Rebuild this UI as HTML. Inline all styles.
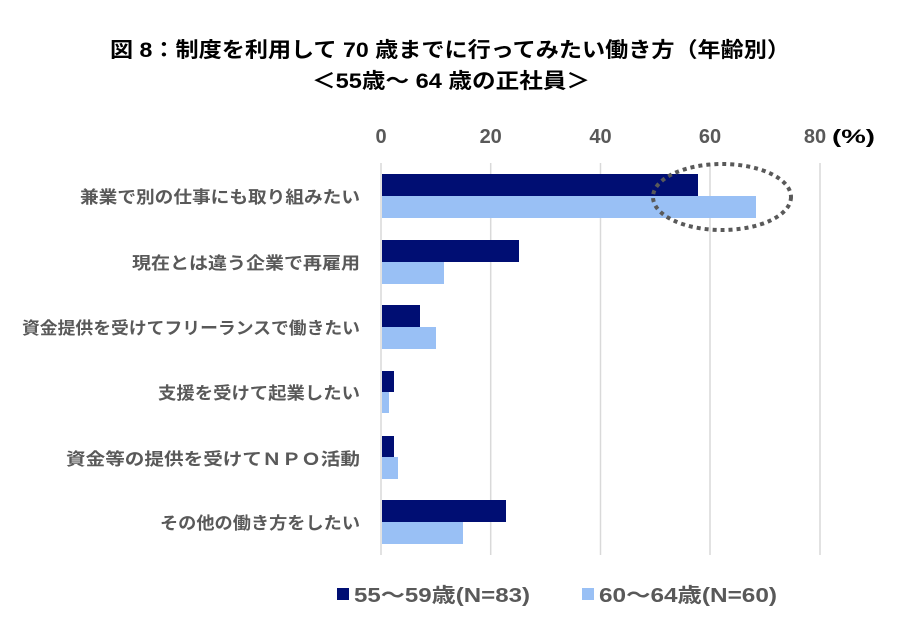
<!DOCTYPE html>
<html><head><meta charset="utf-8"><style>
body{margin:0;background:#fff;}
svg text{font-family:"Liberation Sans","Noto Sans CJK JP",sans-serif;font-weight:bold;}
</style></head><body>
<svg width="900" height="630" xmlns="http://www.w3.org/2000/svg">
<rect width="900" height="630" fill="#fff"/>
<text x="110" y="57" font-size="21" fill="#000" textLength="680" lengthAdjust="spacingAndGlyphs">図 8：制度を利用して 70 歳までに行ってみたい働き方（年齢別）</text>
<text x="312" y="88" font-size="21" fill="#000" textLength="278" lengthAdjust="spacingAndGlyphs">＜55歳～ 64 歳の正社員＞</text>
<g font-size="20" fill="#595959" text-anchor="middle">
<text x="381" y="143">0</text><text x="490.7" y="143">20</text><text x="600.5" y="143">40</text><text x="710" y="143">60</text><text x="815" y="143">80</text>
</g>
<text x="832" y="143" font-size="19" fill="#000" textLength="43" lengthAdjust="spacingAndGlyphs">(%)</text>
<g stroke="#d9d9d9" stroke-width="1.5">
<line x1="381" y1="163" x2="381" y2="555"/><line x1="490.7" y1="163" x2="490.7" y2="555"/><line x1="600.5" y1="163" x2="600.5" y2="555"/><line x1="710" y1="163" x2="710" y2="555"/><line x1="820" y1="163" x2="820" y2="555"/>
</g>
<g fill="#000e73">
<rect x="382" y="174" width="316" height="22"/>
<rect x="382" y="240" width="137" height="22"/>
<rect x="382" y="305" width="38" height="22"/>
<rect x="382" y="371" width="12" height="21"/>
<rect x="382" y="436" width="12" height="21"/>
<rect x="382" y="500" width="124" height="22"/>
</g>
<g fill="#99c0f5">
<rect x="382" y="196" width="374" height="22"/>
<rect x="382" y="262" width="62" height="22"/>
<rect x="382" y="327" width="54" height="22"/>
<rect x="382" y="392" width="7" height="21"/>
<rect x="382" y="457" width="16" height="22"/>
<rect x="382" y="522" width="81" height="22"/>
</g>
<ellipse cx="722" cy="197" rx="69" ry="33" fill="none" stroke="#595959" stroke-width="4" stroke-dasharray="4 4"/>
<g font-size="17" fill="#595959">
<text x="80" y="203" textLength="280" lengthAdjust="spacingAndGlyphs">兼業で別の仕事にも取り組みたい</text>
<text x="132" y="269" textLength="228" lengthAdjust="spacingAndGlyphs">現在とは違う企業で再雇用</text>
<text x="22" y="334" textLength="338" lengthAdjust="spacingAndGlyphs">資金提供を受けてフリーランスで働きたい</text>
<text x="158" y="399" textLength="202" lengthAdjust="spacingAndGlyphs">支援を受けて起業したい</text>
<text x="66" y="465" textLength="294" lengthAdjust="spacingAndGlyphs">資金等の提供を受けてＮＰＯ活動</text>
<text x="160" y="529" textLength="200" lengthAdjust="spacingAndGlyphs">その他の働き方をしたい</text>
</g>
<rect x="337" y="588" width="12" height="12" fill="#000e73"/>
<text x="354" y="602" font-size="20" fill="#595959" textLength="176" lengthAdjust="spacingAndGlyphs">55～59歳(N=83)</text>
<rect x="582" y="588" width="12" height="12" fill="#99c0f5"/>
<text x="599" y="602" font-size="20" fill="#595959" textLength="178" lengthAdjust="spacingAndGlyphs">60～64歳(N=60)</text>
</svg>
</body></html>
